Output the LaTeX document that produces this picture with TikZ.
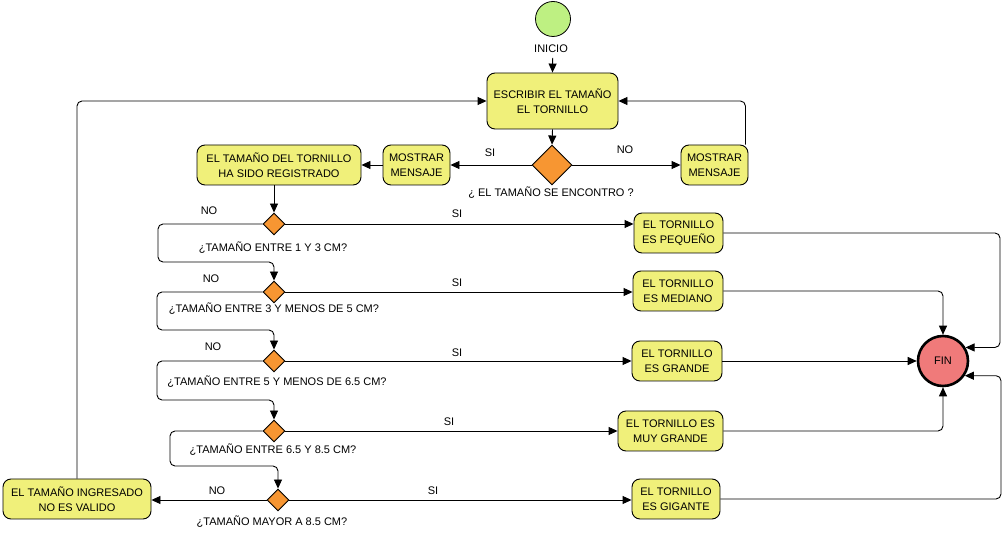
\documentclass[tikz,border=0pt]{standalone}
\usepackage{fontspec}
\setmainfont{Liberation Sans}
\usetikzlibrary{arrows.meta,shapes.geometric}
\definecolor{boxfill}{RGB}{240,240,122}
\definecolor{decfill}{RGB}{247,150,50}
\definecolor{inifill}{RGB}{190,240,130}
\definecolor{finfill}{RGB}{240,122,122}
\begin{document}
\begin{tikzpicture}[x=1pt,y=-1pt,
  font=\fontsize{11}{15}\selectfont,
  box/.style={draw, line width=0.9pt, rounded corners=8pt, fill=boxfill, align=center, inner sep=0pt, minimum height=40pt},
  dec/.style={diamond, draw, line width=0.9pt, fill=decfill, minimum width=22pt, minimum height=22pt, inner sep=0pt},
  arr/.style={line width=0.9pt, -{Triangle[length=9pt,width=8pt]}, rounded corners=5pt},
  lbl/.style={anchor=base, inner sep=0pt}]
\useasboundingbox (0,0) rectangle (1005,534);

% nodes
\node[circle, draw, fill=inifill, minimum size=35pt, inner sep=0pt, line width=0.8pt] (ini) at (553,19) {};
\node[lbl] (inil) at (551,53) {INICIO};
\node[box, minimum width=131pt, minimum height=56pt] (esc) at (552.5,101) {ESCRIBIR EL TAMAÑO\\EL TORNILLO};
\node[dec, minimum width=40pt, minimum height=40pt] (d1) at (552,165) {};
\node[box, minimum width=67pt] (msgl) at (416.5,165) {MOSTRAR\\MENSAJE};
\node[box, minimum width=67pt] (msgr) at (714.5,165) {MOSTRAR\\MENSAJE};
\node[box, minimum width=164pt] (reg) at (279,165) {EL TAMAÑO DEL TORNILLO\\HA SIDO REGISTRADO};

\node[dec] (d2) at (274,224) {};
\node[dec] (d3) at (274,292) {};
\node[dec] (d4) at (274,361) {};
\node[dec] (d5) at (274,431) {};
\node[dec] (d6) at (278,500) {};

\node[box, minimum width=89pt] (peq) at (678.5,233) {EL TORNILLO\\ES PEQUEÑO};
\node[box, minimum width=90pt] (med) at (678,291) {EL TORNILLO\\ES MEDIANO};
\node[box, minimum width=90pt] (gra) at (677,361) {EL TORNILLO\\ES GRANDE};
\node[box, minimum width=105pt] (muy) at (670.5,431) {EL TORNILLO ES\\MUY GRANDE};
\node[box, minimum width=88pt] (gig) at (676,499) {EL TORNILLO\\ES GIGANTE};
\node[box, minimum width=148pt] (inv) at (77,499) {EL TAMAÑO INGRESADO\\NO ES VALIDO};

\node[circle, draw, fill=finfill, minimum size=50pt, inner sep=0pt, line width=2.6pt] (fin) at (943,361) {FIN};

\coordinate (xr1) at (1000,0);
\coordinate (xr2) at (1001,0);

% labels
\node[lbl] at (490,157) {SI};
\node[lbl] at (625,154) {NO};
\node[lbl] at (551,197) {¿ EL TAMAÑO SE ENCONTRO ?};
\node[lbl] at (209,215) {NO};
\node[lbl] at (457,218) {SI};
\node[lbl] at (273,252) {¿TAMAÑO ENTRE 1 Y 3 CM?};
\node[lbl] at (211,283) {NO};
\node[lbl] at (457,287) {SI};
\node[lbl] at (274,313) {¿TAMAÑO ENTRE 3 Y MENOS DE 5 CM?};
\node[lbl] at (213,351) {NO};
\node[lbl] at (457,357) {SI};
\node[lbl] at (277,386) {¿TAMAÑO ENTRE 5 Y MENOS DE 6.5 CM?};
\node[lbl] at (449,426) {SI};
\node[lbl] at (273,454) {¿TAMAÑO ENTRE 6.5 Y 8.5 CM?};
\node[lbl] at (217,495) {NO};
\node[lbl] at (433,495) {SI};
\node[lbl] at (272,526) {¿TAMAÑO MAYOR A 8.5 CM?};

% connectors
\draw[arr, shorten <=21pt] (ini.south) -- (esc.north);
\draw[arr] (esc.south) -- (d1.north);
\draw[arr] (d1.west) -- (msgl.east);
\draw[arr] (d1.east) -- (msgr.west);
\draw[arr] ([xshift=-3pt]msgr.north east) |- (esc.east);
\draw[arr] (msgl.west) -- (reg.east);
\draw[arr] (reg.south -| d2.north) -- (d2.north);

\draw[arr] (d2.west) -- (158,224) -- (158,262) -- (274,262) -- (d3.north);
\draw[arr] (d3.west) -- (157,292) -- (157,330) -- (274,330) -- (d4.north);
\draw[arr] (d4.west) -- (157,361) -- (157,400) -- (274,400) -- (d5.north);
\draw[arr] (d5.west) -- (170,431) -- (170,466) -- (278,466) -- (d6.north);
\draw[arr] (d6.west) -- (d6.west -| inv.east);
\draw[arr] (inv.north) |- (esc.west);

\draw[arr] (d2.east) -- (d2.east -| peq.west);
\draw[arr] (d3.east) -- (d3.east -| med.west);
\draw[arr] (d4.east) -- (d4.east -| gra.west);
\draw[arr] (d5.east) -- (d5.east -| muy.west);
\draw[arr] (d6.east) -- (d6.east -| gig.west);

\draw[arr] (peq.east) -- (peq.east -| xr1) |- (fin.31);
\draw[arr] (med.east) -| (fin.north);
\draw[arr] (gra.east) -- (fin.west);
\draw[arr] (muy.east) -| (fin.south);
\draw[arr] (gig.east) -- (gig.east -| xr2) |- (fin.-34);
\end{tikzpicture}
\end{document}
